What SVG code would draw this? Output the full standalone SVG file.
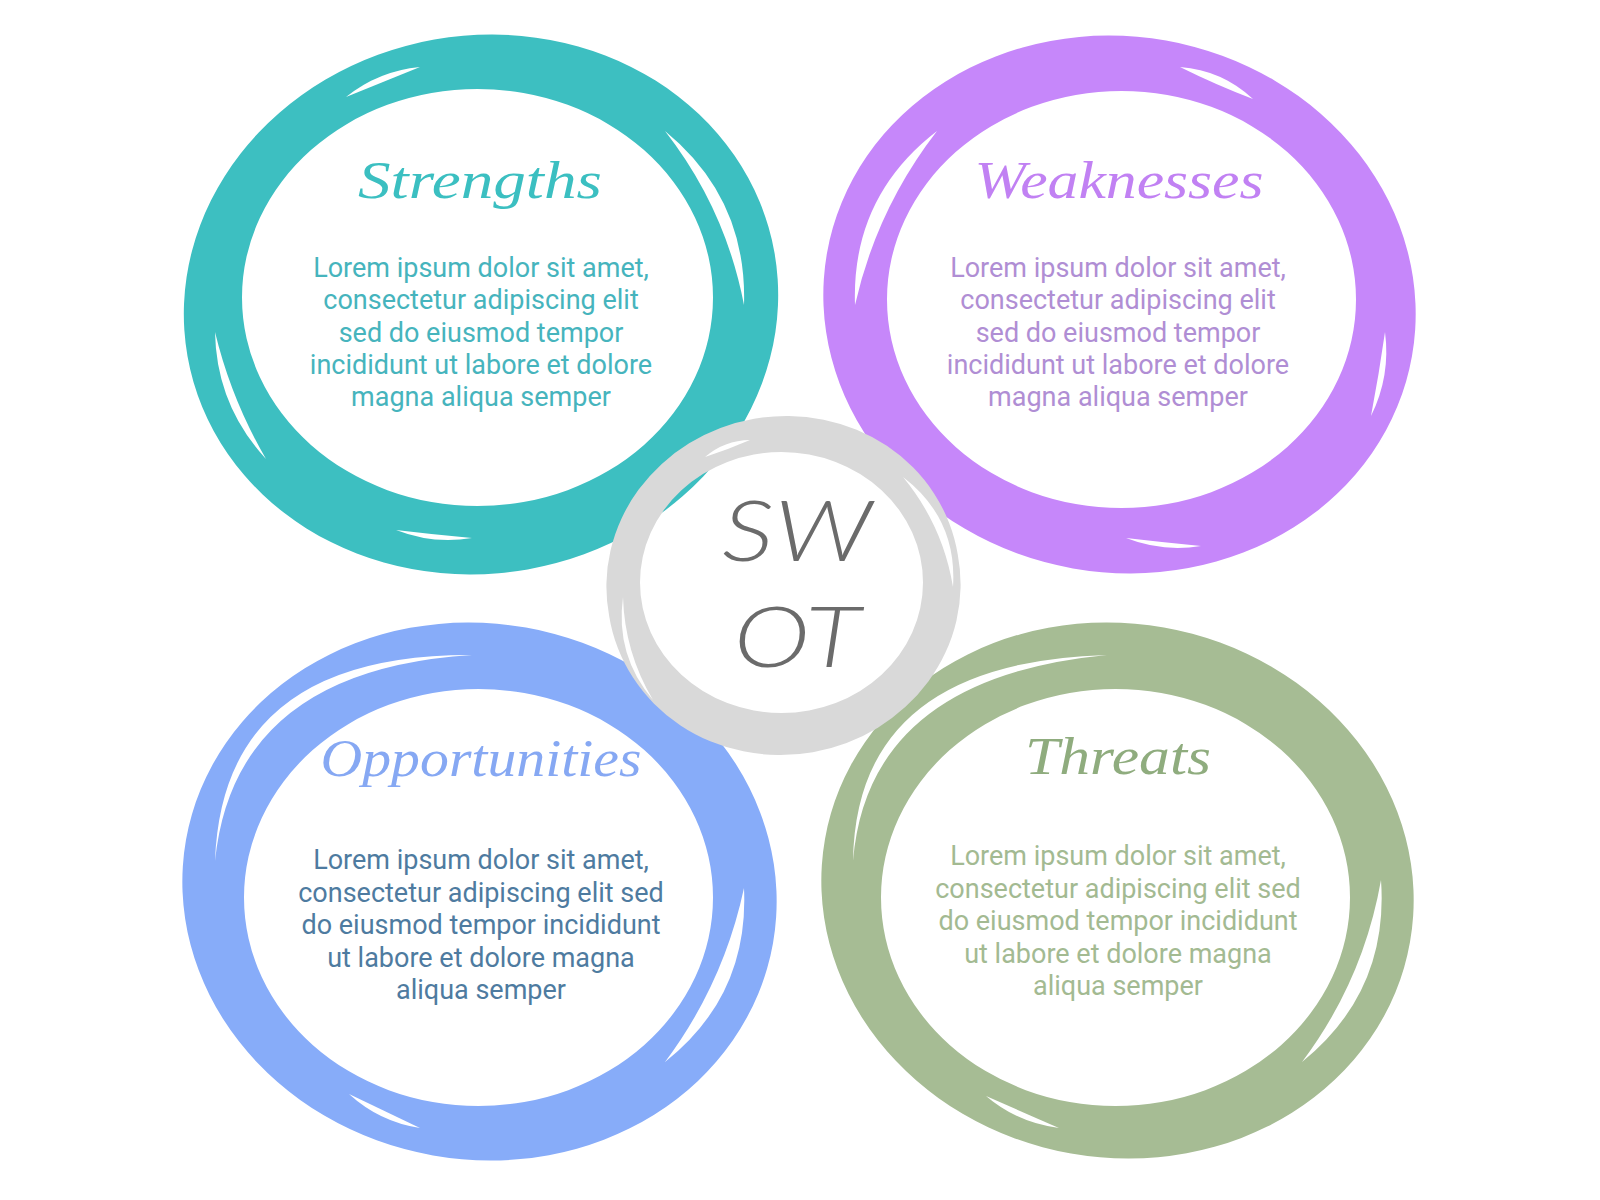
<svg xmlns="http://www.w3.org/2000/svg" width="1600" height="1200" viewBox="0 0 1600 1200">
<style>
.ring{fill-rule:evenodd;stroke:none}
.gap{fill:#ffffff;stroke:none}
.title{font-family:"Liberation Serif","DejaVu Serif",serif;font-style:italic;font-size:52px;text-anchor:middle}
.body{font-family:Roboto,"Liberation Sans",sans-serif;font-size:27px;text-anchor:middle}
.swot{font-family:Lato,"Liberation Sans",sans-serif;font-style:italic;font-weight:300;font-size:85px;fill:#6B6B6B;text-anchor:middle}
</style>
<rect width="1600" height="1200" fill="#ffffff"/>
<g id="strengths">
<path class="ring" fill="#3DBFC1" d="M774.5,252.8 A298,269 -10 1 1 187.5,356.2 A298,269 -10 1 1 774.5,252.8 Z M713,297.5 A235.5,208.5 0 1 1 242,297.5 A235.5,208.5 0 1 1 713,297.5 Z"/>
<path class="gap" d="M346,97 Q378.5,70.9 420,67 Q383,82 346,97 Z"/>
<path class="gap" d="M665,131 Q747.3,198.5 744,305 Q725.5,208.5 665,131 Z"/>
<path class="gap" d="M215,332 Q216.4,405.2 266,459 Q231.2,399.2 215,332 Z"/>
<path class="gap" d="M396,530 Q432.9,544.5 472,538 Q434,534.6 396,530 Z"/>
<text class="title" x="480" y="198" textLength="244" lengthAdjust="spacingAndGlyphs" fill="#3BBFC1">Strengths</text>
<g class="body" fill="#46B4BD">
<text x="481" y="277">Lorem ipsum dolor sit amet,</text>
<text x="481" y="309.3">consectetur adipiscing elit</text>
<text x="481" y="341.6">sed do eiusmod tempor</text>
<text x="481" y="373.9">incididunt ut labore et dolore</text>
<text x="481" y="406.2">magna aliqua semper</text>
</g>
</g>
<g id="weaknesses">
<path class="ring" fill="#C687FA" d="M1412,356.1 A297,268 10 1 1 827,252.9 A297,268 10 1 1 1412,356.1 Z M1356,299.5 A234.5,208.5 0 1 1 887,299.5 A234.5,208.5 0 1 1 1356,299.5 Z"/>
<path class="gap" d="M1180,67 Q1222.1,70.2 1253,99 Q1215.7,84.8 1180,67 Z"/>
<path class="gap" d="M937,131 Q851.3,197 855,305 Q876.7,208.9 937,131 Z"/>
<path class="gap" d="M1385,332 Q1390.8,376.1 1371,416 Q1379,374.2 1385,332 Z"/>
<path class="gap" d="M1126,538 Q1162.4,552.3 1201,546 Q1163.5,542.4 1126,538 Z"/>
<text class="title" x="1119" y="198" textLength="289" lengthAdjust="spacingAndGlyphs" fill="#C181F3">Weaknesses</text>
<g class="body" fill="#B08ED4">
<text x="1118" y="277">Lorem ipsum dolor sit amet,</text>
<text x="1118" y="309.3">consectetur adipiscing elit</text>
<text x="1118" y="341.6">sed do eiusmod tempor</text>
<text x="1118" y="373.9">incididunt ut labore et dolore</text>
<text x="1118" y="406.2">magna aliqua semper</text>
</g>
</g>
<g id="opportunities">
<path class="ring" fill="#87ACF9" d="M773,943.2 A298,268 10 1 1 186,839.8 A298,268 10 1 1 773,943.2 Z M713,897.5 A234.5,208.5 0 1 1 244,897.5 A234.5,208.5 0 1 1 713,897.5 Z"/>
<path class="gap" d="M472,655 Q222.5,654 215,861 Q234.5,670 472,655 Z"/>
<path class="gap" d="M744,888 Q749.1,995.3 665,1062 Q723.6,983.7 744,888 Z"/>
<path class="gap" d="M349,1094 Q379.3,1121.8 420,1128 Q384.5,1111 349,1094 Z"/>
<text class="title" x="481" y="776" textLength="321" lengthAdjust="spacingAndGlyphs" fill="#86A8F3">Opportunities</text>
<g class="body" fill="#4E7BA0">
<text x="481" y="869">Lorem ipsum dolor sit amet,</text>
<text x="481" y="901.5">consectetur adipiscing elit sed</text>
<text x="481" y="934">do eiusmod tempor incididunt</text>
<text x="481" y="966.5">ut labore et dolore magna</text>
<text x="481" y="999">aliqua semper</text>
</g>
</g>
<g id="threats">
<path class="ring" fill="#A6BC94" d="M1410,942.1 A297,267 10 1 1 825,838.9 A297,267 10 1 1 1410,942.1 Z M1350,897.5 A234.5,208.5 0 1 1 881,897.5 A234.5,208.5 0 1 1 1350,897.5 Z"/>
<path class="gap" d="M1107,655 Q856,662 853,861 Q868,678 1107,655 Z"/>
<path class="gap" d="M1381,880 Q1389,991.6 1302,1062 Q1363.3,980.5 1381,880 Z"/>
<path class="gap" d="M986,1096 Q1017.7,1123 1059,1128 Q1022.5,1112 986,1096 Z"/>
<text class="title" x="1118" y="774" textLength="186" lengthAdjust="spacingAndGlyphs" fill="#8FAC7E">Threats</text>
<g class="body" fill="#A3BA92">
<text x="1118" y="865">Lorem ipsum dolor sit amet,</text>
<text x="1118" y="897.5">consectetur adipiscing elit sed</text>
<text x="1118" y="930">do eiusmod tempor incididunt</text>
<text x="1118" y="962.5">ut labore et dolore magna</text>
<text x="1118" y="995">aliqua semper</text>
</g>
</g>
<g id="swot">
<path class="ring" fill="#D9D9D9" d="M957.8,554.8 A177,167 -10 1 1 609.2,616.2 A177,167 -10 1 1 957.8,554.8 Z M923,582.5 A141.5,130.5 0 1 1 640,582.5 A141.5,130.5 0 1 1 923,582.5 Z"/>
<path class="gap" d="M705,457 Q724.4,440.3 750,440 Q727.9,449.6 705,457 Z"/>
<path class="gap" d="M903,477 Q957.4,518.6 953,587 Q942.8,525.3 903,477 Z"/>
<path class="gap" d="M623,597 Q615,655.2 653,700 Q624.6,652.4 623,597 Z"/>
<text class="swot" x="797" y="561" textLength="150" lengthAdjust="spacingAndGlyphs">SW</text>
<text class="swot" x="797" y="667" textLength="127" lengthAdjust="spacingAndGlyphs">OT</text>
</g>
<g id="connectors"/>
</svg>
